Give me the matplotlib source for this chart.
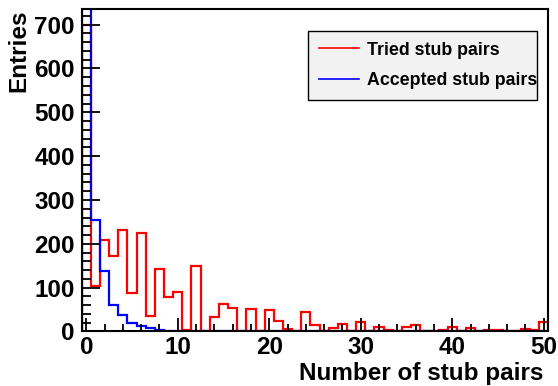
import matplotlib
matplotlib.use("Agg")
import matplotlib.pyplot as plt
import numpy as np
from matplotlib.ticker import MultipleLocator

plt.rcParams["font.family"] = ["Liberation Sans", "DejaVu Sans"]
plt.rcParams["font.weight"] = "bold"

# ---------------------------------------------------------------------------
# Daten (Bins der Breite 1, zentriert auf ganze Zahlen 0..50)
# ---------------------------------------------------------------------------
bin_edges = np.arange(-0.5, 51.0, 1.0)

tried = [700, 104, 209, 172, 231, 87, 225, 36, 143, 78,
         89, 4, 149, 0, 34, 62, 53, 0, 52, 0,
         48, 25, 5, 0, 44, 14, 2, 8, 17, 0,
         22, 0, 10, 4, 0, 11, 14, 0, 0, 3,
         10, 0, 8, 1, 3, 4, 0, 0, 5, 3,
         21]

accepted = [1800, 254, 138, 61, 37, 19, 13, 7, 4, 2,
            1, 1, 0, 0, 0, 0, 0, 0, 0, 0,
            0, 0, 0, 0, 0, 0, 0, 0, 0, 0,
            0, 0, 0, 0, 0, 0, 0, 0, 0, 0,
            0, 0, 0, 0, 0, 0, 0, 0, 0, 0,
            0]

labels = ["Tried stub pairs", "Accepted stub pairs"]

# ---------------------------------------------------------------------------
# Figure
# ---------------------------------------------------------------------------
fig = plt.figure(figsize=(5.58, 3.86), dpi=100)
ax = fig.add_axes([0.1464, 0.1412, 0.8362, 0.8347])

ax.stairs(tried, bin_edges, color="#ff0000", lw=1.6, label=labels[0])
ax.stairs(accepted, bin_edges, color="#0000ff", lw=1.6, label=labels[1])

ax.set_xlim(-0.5, 50.5)
ax.set_ylim(0, 735)

ax.xaxis.set_major_locator(MultipleLocator(10))
ax.xaxis.set_minor_locator(MultipleLocator(2))
ax.yaxis.set_major_locator(MultipleLocator(100))
ax.yaxis.set_minor_locator(MultipleLocator(20))

for s in ax.spines.values():
    s.set_linewidth(1.5)

ax.tick_params(axis="both", which="both", direction="in", width=1.3,
               top=False, right=False, labelsize=17.5)
ax.tick_params(axis="y", which="major", length=13, pad=5)
ax.tick_params(axis="y", which="minor", length=6.5)
ax.tick_params(axis="x", which="major", length=9.5, pad=3)
ax.tick_params(axis="x", which="minor", length=5)
for lab in ax.get_xticklabels() + ax.get_yticklabels():
    lab.set_fontweight("bold")

ax.set_xlabel("Number of stub pairs", fontsize=17.5, fontweight="bold",
              loc="right")
ax.xaxis.set_label_coords(0.9886, -0.095)
ax.set_ylabel("Entries", fontsize=17.5, fontweight="bold", loc="top",
              labelpad=3)

leg = ax.legend(loc="upper left",
                bbox_to_anchor=(308 / 558, 1 - 31 / 386, 229 / 558, 0),
                bbox_transform=fig.transFigure, mode="expand",
                prop={"weight": "bold", "size": 12.8},
                fancybox=False, framealpha=1, edgecolor="black",
                handlelength=2.25, handletextpad=0.45, borderpad=0.6,
                labelspacing=0.75, borderaxespad=0)
leg.get_frame().set_facecolor("#f2f2f2")
leg.get_frame().set_linewidth(1.0)
for h in leg.get_lines():
    h.set_linewidth(1.2)

fig.savefig("out.png", dpi=100)
